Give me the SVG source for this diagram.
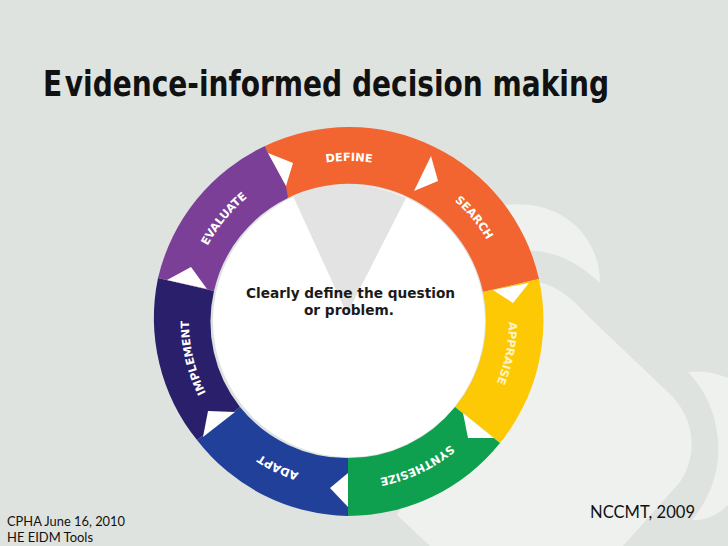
<svg xmlns="http://www.w3.org/2000/svg" width="728" height="546" viewBox="0 0 728 546">
<style>
.lbl{font-family:"DejaVu Sans",sans-serif;font-weight:700;font-size:11.3px;text-anchor:middle}
.lite{fill:#eef1ee}
.note{font-family:"Lato","Open Sans",sans-serif;fill:#111}
.notch{fill:#fff}
</style>
<defs><path id="ring" d="M349 481A160 160 0 1 1 349.01 481Z"/></defs>
<rect width="728" height="546" fill="#dfe3df"/>
<g id="background">
<path class="lite" d="M505 205C560 198 600 235 600 283C580 265 560 250 520 250Z"/>
<path class="lite" d="M530 280C560 285 575 302 590 318L673 397C695 422 698 455 680 482L623 546H430L397 515Z"/>
<path class="lite" d="M688 372C705 370 718 374 728 378V505C718 515 705 521 692 520C712 495 720 470 718 440C715 410 705 390 688 372Z"/>
</g>
<text id="title" x="43" y="96" font-family="'DejaVu Sans',sans-serif" font-weight="700" font-size="36" font-stretch="condensed" textLength="566" lengthAdjust="spacingAndGlyphs" fill="#111">E<tspan dx="3">vidence-informed decision making</tspan></text>
<g id="wheel">
<g id="define-search"><path fill="#f26531" d="M265 146A195 195 0 0 1 539 279L483 292A137 137 0 0 0 288 198Z"/></g>
<g id="appraise"><path fill="#fdc905" d="M539 279A195 195 0 0 1 500 443L455 407A137 137 0 0 0 483 292Z"/></g>
<g id="synthesize"><path fill="#0ea04f" d="M500 443A195 195 0 0 1 348 516L348 458A137 137 0 0 0 455 407Z"/></g>
<g id="adapt"><path fill="#21409a" d="M348 516A195 195 0 0 1 197 440L240 407A137 137 0 0 0 348 458Z"/></g>
<g id="implement"><path fill="#2a1f6b" d="M197 440A195 195 0 0 1 158 278L214 291A137 137 0 0 0 240 407Z"/></g>
<g id="evaluate"><path fill="#7c3f98" d="M158 278A195 195 0 0 1 265 146L268 153L286 186L288 198A137 137 0 0 0 214 291Z"/></g>
<circle cx="349" cy="321" r="136" fill="#fff"/>
<path fill="#e3e3e3" d="M293 196A136 136 0 0 1 406 198L347 314Z"/>
<path class="notch" d="M268 153L293 163L286 186Z"/>
<path class="notch" d="M431 156L438 181L414 191Z"/>
<path class="notch" d="M493 290L529 283L513 303Z"/>
<path class="notch" d="M463 413L494 438L468 438Z"/>
<path class="notch" d="M348 473V507L330 488Z"/>
<path class="notch" d="M208 411L235 412L203 437Z"/>
<path class="notch" d="M167 280L191 267L207 289Z"/>
<text class="lbl" fill="#fff"><textPath href="#ring" startOffset="7.2%">ADAPT</textPath></text>
<text class="lbl" fill="#fff"><textPath href="#ring" startOffset="21.3%">IMPLEMENT</textPath></text>
<text class="lbl" fill="#fff"><textPath href="#ring" startOffset="35.9%">EVALUATE</textPath></text>
<text class="lbl" fill="#fff"><textPath href="#ring" startOffset="50%">DEFINE</textPath></text>
<text class="lbl" fill="#fff"><textPath href="#ring" startOffset="64%">SEARCH</textPath></text>
<text class="lbl" fill="#fff3c4"><textPath href="#ring" startOffset="78.2%">APPRAISE</textPath></text>
<text class="lbl" fill="#fff"><textPath href="#ring" startOffset="93%">SYNTHESIZE</textPath></text>
<text font-family="'DejaVu Sans',sans-serif" font-weight="700" font-size="13.7" text-anchor="middle" fill="#1a1a1a"><tspan x="350.500" y="298">Clearly define the question</tspan><tspan x="349" y="315">or problem.</tspan></text>
</g>
<g id="notes">
<text class="note" x="590" y="518" font-size="16.500" textLength="105" lengthAdjust="spacingAndGlyphs">NCCMT, 2009</text>
<text class="note" x="7" y="526" font-size="14" textLength="118" lengthAdjust="spacingAndGlyphs">CPHA June 16, 2010</text>
<text class="note" x="7" y="542" font-size="14" textLength="86" lengthAdjust="spacingAndGlyphs">HE EIDM Tools</text>
</g>
</svg>
